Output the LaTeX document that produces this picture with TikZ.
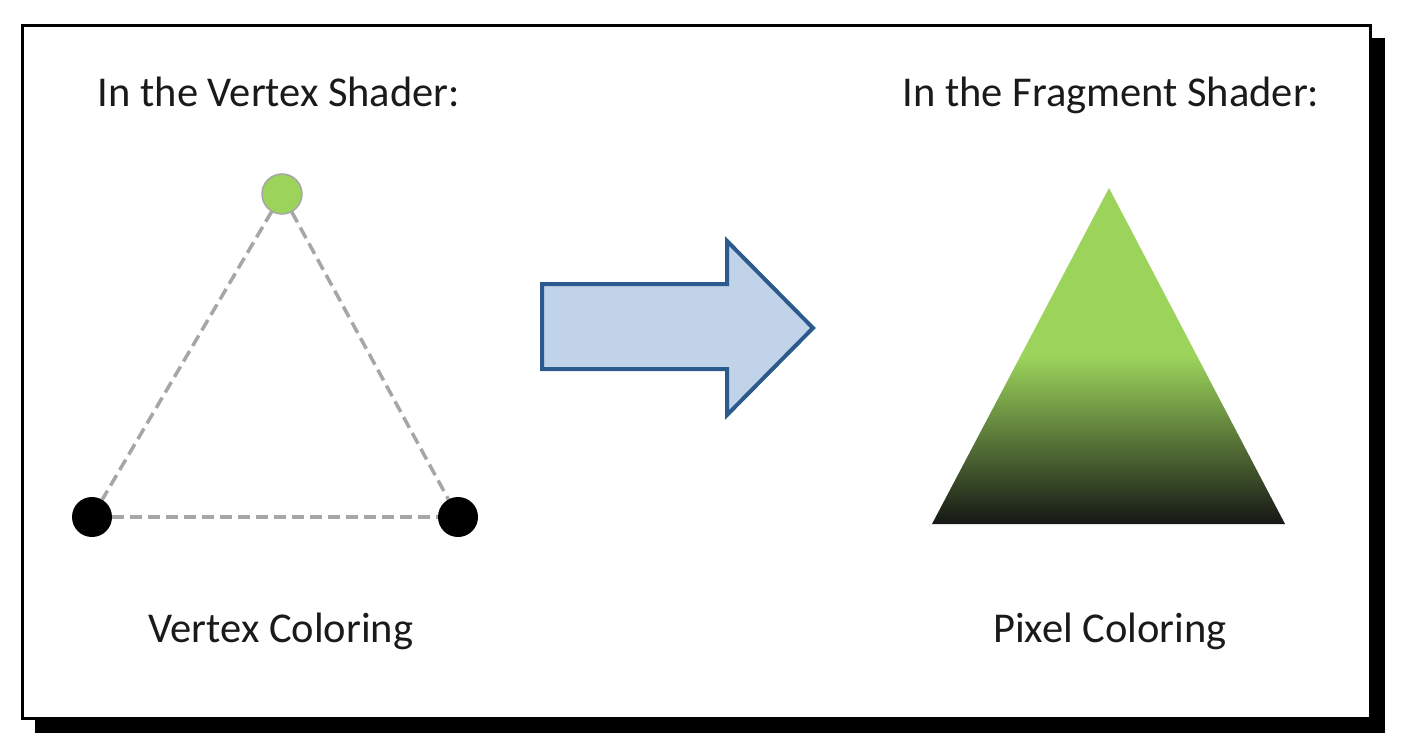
\documentclass[tikz,border=0pt]{standalone}
\usepackage{fontspec}
\setmainfont{Carlito}
\definecolor{txt}{HTML}{1A1A1A}
\definecolor{edgegray}{HTML}{A6A6A6}
\definecolor{vgreen}{HTML}{9BD35B}
\definecolor{arrowfill}{HTML}{C0D3E9}
\definecolor{arrowline}{HTML}{2C5A8C}
\definecolor{tridark}{HTML}{141614}
\begin{document}
\begin{tikzpicture}[x=1pt,y=-1pt,
  lbl/.style={font=\fontsize{42.5}{50}\selectfont,text=txt,inner sep=0pt,anchor=base},
  vert/.style={circle,minimum size=40pt,inner sep=0pt},
  edge/.style={draw=edgegray,line width=3.5pt,dash pattern=on 12pt off 6pt},
  frame/.style={draw=black,line width=3pt,fill=white}]
\useasboundingbox (0,0) rectangle (1407,751);
% shadow
\fill[black] (35,38) rectangle (1385,733);
% frame
\draw[frame] (22,26) rectangle (1370,718);
% texts
\node[lbl] (h1) at (279,107) {In the Vertex Shader:};
\node[lbl] (h2) at (1111,107) {In the Fragment Shader:};
\node[lbl] (c1) at (281,642) {Vertex Coloring};
\node[lbl] (c2) at (1110,642) {Pixel Coloring};
% vertices
\node[vert] (top) at (282,194) {};
\node[vert] (bl) at (92,517) {};
\node[vert] (br) at (458,517) {};
\draw[edge] (top) -- (bl);
\draw[edge] (top) -- (br);
\draw[edge] (bl) -- (br);
\node[vert,fill=vgreen,draw=gray!70,line width=1.5pt] at (top) {};
\node[vert,fill=black] at (bl) {};
\node[vert,fill=black] at (br) {};
% arrow
\draw[fill=arrowfill,draw=arrowline,line width=4pt,line join=miter]
  (542,284) -- (727,284) -- (727,241) -- (813,328) -- (727,415) -- (727,369) -- (542,369) -- cycle;
% shaded triangle
\begin{scope}
\clip (1109,188) -- (1285,524) -- (932,524) -- cycle;
\fill[vgreen] (930,186) rectangle (1287,358);
\shade[top color=vgreen,bottom color=tridark] (930,357) rectangle (1287,525);
\end{scope}
\end{tikzpicture}
\end{document}
